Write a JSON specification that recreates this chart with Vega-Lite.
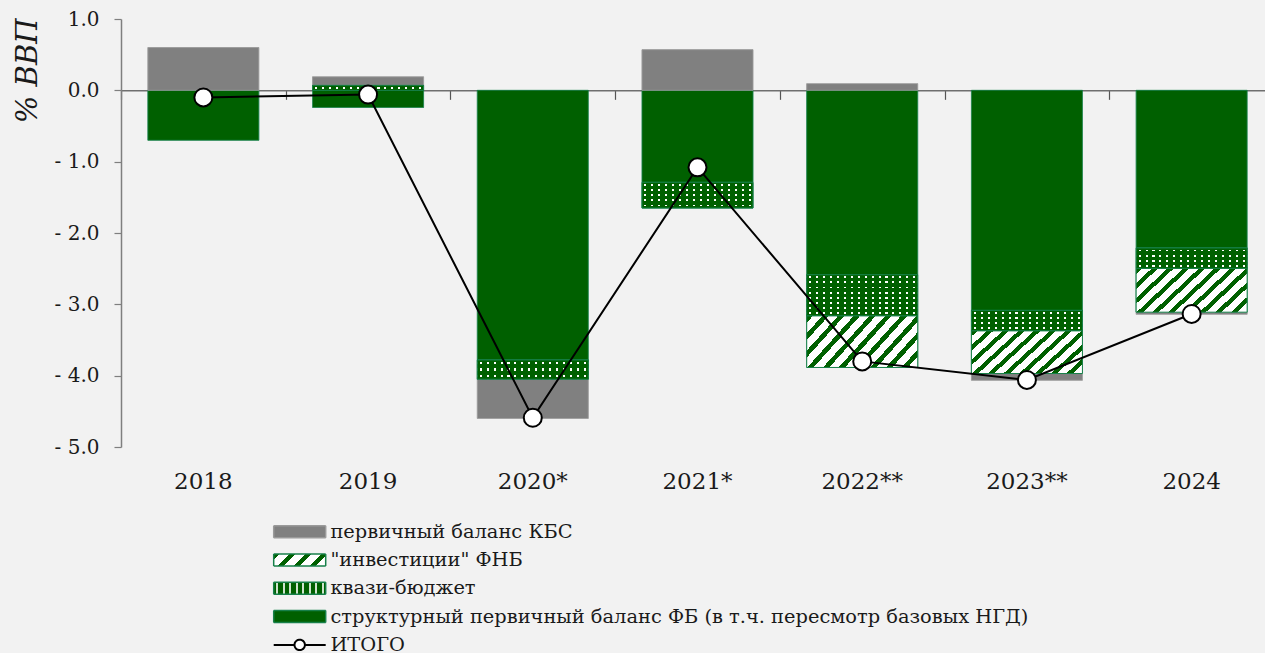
{
  "$schema": "https://vega.github.io/schema/vega-lite/v6.json",
  "autosize": {"type": "none"},
  "padding": {"left": 121, "top": 19, "right": 0, "bottom": 206},
  "width": 1144,
  "height": 428,
  "background": "#f2f2f2",
  "config": {
    "view": {"stroke": null},
    "font": "DejaVu Serif",
    "axis": {"labelFont": "DejaVu Serif", "titleFont": "DejaVu Serif", "labelColor": "#1a1a1a", "titleColor": "#1a1a1a", "grid": false}
  },
  "datasets": {
    "bars": [
      {"year": "2018", "series": "структурный первичный баланс ФБ (в т.ч. пересмотр базовых НГД)", "value": -0.70},
      {"year": "2018", "series": "первичный баланс КБС", "value": 0.60},
      {"year": "2019", "series": "структурный первичный баланс ФБ (в т.ч. пересмотр базовых НГД)", "value": -0.24},
      {"year": "2019", "series": "квази-бюджет", "value": 0.07},
      {"year": "2019", "series": "первичный баланс КБС", "value": 0.12},
      {"year": "2020*", "series": "структурный первичный баланс ФБ (в т.ч. пересмотр базовых НГД)", "value": -3.78},
      {"year": "2020*", "series": "квази-бюджет", "value": -0.27},
      {"year": "2020*", "series": "первичный баланс КБС", "value": -0.55},
      {"year": "2021*", "series": "структурный первичный баланс ФБ (в т.ч. пересмотр базовых НГД)", "value": -1.29},
      {"year": "2021*", "series": "квази-бюджет", "value": -0.36},
      {"year": "2021*", "series": "первичный баланс КБС", "value": 0.57},
      {"year": "2022**", "series": "структурный первичный баланс ФБ (в т.ч. пересмотр базовых НГД)", "value": -2.585},
      {"year": "2022**", "series": "квази-бюджет", "value": -0.575},
      {"year": "2022**", "series": "\"инвестиции\" ФНБ", "value": -0.725},
      {"year": "2022**", "series": "первичный баланс КБС", "value": 0.094},
      {"year": "2023**", "series": "структурный первичный баланс ФБ (в т.ч. пересмотр базовых НГД)", "value": -3.085},
      {"year": "2023**", "series": "квази-бюджет", "value": -0.285},
      {"year": "2023**", "series": "\"инвестиции\" ФНБ", "value": -0.60},
      {"year": "2023**", "series": "первичный баланс КБС", "value": -0.095},
      {"year": "2024", "series": "структурный первичный баланс ФБ (в т.ч. пересмотр базовых НГД)", "value": -2.21},
      {"year": "2024", "series": "квази-бюджет", "value": -0.285},
      {"year": "2024", "series": "\"инвестиции\" ФНБ", "value": -0.615},
      {"year": "2024", "series": "первичный баланс КБС", "value": -0.03}
    ],
    "totals": [
      {"year": "2018", "total": -0.10},
      {"year": "2019", "total": -0.06},
      {"year": "2020*", "total": -4.59},
      {"year": "2021*", "total": -1.08},
      {"year": "2022**", "total": -3.80},
      {"year": "2023**", "total": -4.06},
      {"year": "2024", "total": -3.135}
    ]
  },
  "resolve": {"scale": {"x": "shared", "y": "shared"}, "axis": {"x": "independent"}},
  "layer": [
    {
      "data": {"name": "bars"},
      "transform": [
        {"calculate": "datum.series === 'первичный баланс КБС' ? 4 : datum.series === 'квази-бюджет' ? 2 : indexof(datum.series, 'ФНБ') >= 0 ? 3 : 1", "as": "ord"},
        {"stack": "value", "groupby": ["year"], "sort": [{"field": "ord", "order": "ascending"}], "as": ["v0", "v1"], "offset": "zero"}
      ],
      "mark": {"type": "bar", "width": {"band": 0.674}, "strokeWidth": 1},
      "encoding": {
        "x": {"field": "year", "type": "nominal",
          "scale": {"domain": ["2018", "2019", "2020*", "2021*", "2022**", "2023**", "2024"], "range": [0, 1153], "paddingInner": 0, "paddingOuter": 0},
          "axis": {"orient": "bottom", "title": null, "domain": false, "ticks": false, "labelAngle": 0, "labelFontSize": 23, "labelPadding": 23}},
        "y": {"field": "v1", "type": "quantitative",
          "scale": {"domain": [-5, 1], "nice": false, "zero": false},
          "axis": {"title": "% ВВП", "values": [1, 0, -1, -2, -3, -4, -5],
            "labelExpr": "datum.value < 0 ? '- ' + format(-datum.value, '.1f') : format(datum.value, '.1f')",
            "labelFontSize": 20, "tickSize": 7, "labelPadding": 15, "domainColor": "#7f7f7f", "tickColor": "#7f7f7f", "domainWidth": 1.5, "tickWidth": 1.2,
            "titleFontSize": 29, "titleFontStyle": "italic", "titleFontWeight": "normal", "titleAngle": -90, "titleX": -94, "titleY": -1, "titleAlign": "right", "titleBaseline": "middle"}},
        "y2": {"field": "v0"},
        "fill": {"condition": [
            {"test": "datum.series === 'первичный баланс КБС'", "value": "#808080"},
            {"test": "indexof(datum.series, 'ФНБ') >= 0", "value": "#ffffff"}],
          "value": "#006000"},
        "stroke": {"condition": {"test": "datum.series === 'первичный баланс КБС'", "value": "#9a9a9a"}, "value": "#17804a"},
        "strokeDash": {"field": "series", "type": "nominal",
          "scale": {
            "domain": ["первичный баланс КБС", "\"инвестиции\" ФНБ", "квази-бюджет", "структурный первичный баланс ФБ (в т.ч. пересмотр базовых НГД)", "ИТОГО"],
            "range": [[1, 0], [1, 0], [1, 0], [1, 0], [1, 0]]
          },
          "legend": {
            "title": null, "orient": "none", "legendX": 169, "legendY": 503, "direction": "vertical",
            "labelFont": "DejaVu Serif", "labelFontSize": 19.4, "labelColor": "#1a1a1a", "labelLimit": 1000, "labelOffset": 21,
            "symbolSize": 1600, "rowPadding": 7.3, "symbolType": "M-1.3,-0.3H1.3V0.3H-1.3Z", "symbolOpacity": 1,
            "encoding": {"symbols": {
              "shape": {"value": {"expr": "datum.value === 'ИТОГО' ? 'M-1.3,0H-0.26A0.26,0.26 0 1 1 0.26,0A0.26,0.26 0 1 1 -0.26,0M0.26,0H1.3' : 'M-1.3,-0.3H1.3V0.3H-1.3Z'"}},
              "fill": {"value": {"expr": "datum.value === 'ИТОГО' ? '#ffffff' : datum.value === 'первичный баланс КБС' ? '#808080' : indexof(datum.value, 'ФНБ') >= 0 ? {gradient: 'linear', x1: 0, y1: 0, x2: 1.168, y2: 0.27, stops: [{offset: 0, color: '#006000'}, {offset: 0.095, color: '#006000'}, {offset: 0.095, color: '#ffffff'}, {offset: 0.25, color: '#ffffff'}, {offset: 0.25, color: '#006000'}, {offset: 0.345, color: '#006000'}, {offset: 0.345, color: '#ffffff'}, {offset: 0.5, color: '#ffffff'}, {offset: 0.5, color: '#006000'}, {offset: 0.595, color: '#006000'}, {offset: 0.595, color: '#ffffff'}, {offset: 0.75, color: '#ffffff'}, {offset: 0.75, color: '#006000'}, {offset: 0.845, color: '#006000'}, {offset: 0.845, color: '#ffffff'}, {offset: 1, color: '#ffffff'}]} : datum.value === 'квази-бюджет' ? {gradient: 'linear', x1: 0, y1: 0, x2: 1, y2: 0, stops: [{offset: 0, color: '#006000'}, {offset: 0.05, color: '#006000'}, {offset: 0.05, color: '#cfe3cf'}, {offset: 0.085, color: '#cfe3cf'}, {offset: 0.085, color: '#006000'}, {offset: 0.175, color: '#006000'}, {offset: 0.175, color: '#cfe3cf'}, {offset: 0.21, color: '#cfe3cf'}, {offset: 0.21, color: '#006000'}, {offset: 0.3, color: '#006000'}, {offset: 0.3, color: '#cfe3cf'}, {offset: 0.335, color: '#cfe3cf'}, {offset: 0.335, color: '#006000'}, {offset: 0.425, color: '#006000'}, {offset: 0.425, color: '#cfe3cf'}, {offset: 0.46, color: '#cfe3cf'}, {offset: 0.46, color: '#006000'}, {offset: 0.55, color: '#006000'}, {offset: 0.55, color: '#cfe3cf'}, {offset: 0.585, color: '#cfe3cf'}, {offset: 0.585, color: '#006000'}, {offset: 0.675, color: '#006000'}, {offset: 0.675, color: '#cfe3cf'}, {offset: 0.71, color: '#cfe3cf'}, {offset: 0.71, color: '#006000'}, {offset: 0.8, color: '#006000'}, {offset: 0.8, color: '#cfe3cf'}, {offset: 0.835, color: '#cfe3cf'}, {offset: 0.835, color: '#006000'}, {offset: 0.925, color: '#006000'}, {offset: 0.925, color: '#cfe3cf'}, {offset: 0.96, color: '#cfe3cf'}, {offset: 0.96, color: '#006000'}, {offset: 1, color: '#006000'}]} : '#006000'"}},
              "stroke": {"value": {"expr": "datum.value === 'ИТОГО' ? '#000000' : datum.value === 'первичный баланс КБС' ? '#9a9a9a' : '#17804a'"}},
              "strokeWidth": {"value": {"expr": "datum.value === 'ИТОГО' ? 2 : 1.5"}},
              "opacity": {"value": 1}
            }}
          }}
      }
    },
    {
      "data": {"name": "bars"},
      "transform": [
        {"calculate": "datum.series === 'первичный баланс КБС' ? 4 : datum.series === 'квази-бюджет' ? 2 : indexof(datum.series, 'ФНБ') >= 0 ? 3 : 1", "as": "ord"},
        {"stack": "value", "groupby": ["year"], "sort": [{"field": "ord", "order": "ascending"}], "as": ["v0", "v1"], "offset": "zero"},
        {"filter": "indexof(datum.series, 'ФНБ') >= 0"}
      ],
      "mark": {"type": "bar", "width": {"band": 0.674}, "stroke": "#17804a", "strokeWidth": 1,
        "fill": {"gradient": "linear", "x1": 0, "y1": 0, "x2": 1.203, "y2": 0.506, "stops": [
          {"offset": 0, "color": "#006000"}, {"offset": 0.04, "color": "#006000"}, {"offset": 0.04, "color": "#ffffff"}, {"offset": 0.1, "color": "#ffffff"},
          {"offset": 0.1, "color": "#006000"}, {"offset": 0.14, "color": "#006000"}, {"offset": 0.14, "color": "#ffffff"}, {"offset": 0.2, "color": "#ffffff"},
          {"offset": 0.2, "color": "#006000"}, {"offset": 0.24, "color": "#006000"}, {"offset": 0.24, "color": "#ffffff"}, {"offset": 0.3, "color": "#ffffff"},
          {"offset": 0.3, "color": "#006000"}, {"offset": 0.34, "color": "#006000"}, {"offset": 0.34, "color": "#ffffff"}, {"offset": 0.4, "color": "#ffffff"},
          {"offset": 0.4, "color": "#006000"}, {"offset": 0.44, "color": "#006000"}, {"offset": 0.44, "color": "#ffffff"}, {"offset": 0.5, "color": "#ffffff"},
          {"offset": 0.5, "color": "#006000"}, {"offset": 0.54, "color": "#006000"}, {"offset": 0.54, "color": "#ffffff"}, {"offset": 0.6, "color": "#ffffff"},
          {"offset": 0.6, "color": "#006000"}, {"offset": 0.64, "color": "#006000"}, {"offset": 0.64, "color": "#ffffff"}, {"offset": 0.7, "color": "#ffffff"},
          {"offset": 0.7, "color": "#006000"}, {"offset": 0.74, "color": "#006000"}, {"offset": 0.74, "color": "#ffffff"}, {"offset": 0.8, "color": "#ffffff"},
          {"offset": 0.8, "color": "#006000"}, {"offset": 0.84, "color": "#006000"}, {"offset": 0.84, "color": "#ffffff"}, {"offset": 0.9, "color": "#ffffff"},
          {"offset": 0.9, "color": "#006000"}, {"offset": 0.94, "color": "#006000"}, {"offset": 0.94, "color": "#ffffff"}, {"offset": 1, "color": "#ffffff"}
        ]}},
      "encoding": {
        "x": {"field": "year", "type": "nominal", "scale": {"domain": ["2018", "2019", "2020*", "2021*", "2022**", "2023**", "2024"], "range": [0, 1153], "paddingInner": 0, "paddingOuter": 0}, "axis": null},
        "y": {"field": "v1", "type": "quantitative", "scale": {"domain": [-5, 1], "nice": false, "zero": false}},
        "y2": {"field": "v0"}
      }
    },
    {
      "data": {"name": "bars"},
      "transform": [
        {"calculate": "datum.series === 'первичный баланс КБС' ? 4 : datum.series === 'квази-бюджет' ? 2 : indexof(datum.series, 'ФНБ') >= 0 ? 3 : 1", "as": "ord"},
        {"stack": "value", "groupby": ["year"], "sort": [{"field": "ord", "order": "ascending"}], "as": ["v0", "v1"], "offset": "zero"},
        {"filter": "datum.series === 'квази-бюджет' && datum.year === '2019'"}
      ],
      "mark": {"type": "bar", "width": {"band": 0.674}, "strokeWidth": 0,
        "fill": {"gradient": "linear", "x1": 0, "y1": 0, "x2": 0, "y2": 1, "stops": [
          {"offset": 0, "color": "#006000"}, {"offset": 0.3, "color": "#006000"}, {"offset": 0.3, "color": "#ffffff"}, {"offset": 0.7, "color": "#ffffff"}, {"offset": 0.7, "color": "#006000"}, {"offset": 1, "color": "#006000"}]}},
      "encoding": {
        "x": {"field": "year", "type": "nominal", "scale": {"domain": ["2018", "2019", "2020*", "2021*", "2022**", "2023**", "2024"], "range": [0, 1153], "paddingInner": 0, "paddingOuter": 0}, "axis": null},
        "y": {"field": "v1", "type": "quantitative", "scale": {"domain": [-5, 1], "nice": false, "zero": false}},
        "y2": {"field": "v0"}
      }
    },
    {
      "data": {"name": "bars"},
      "transform": [
        {"calculate": "datum.series === 'первичный баланс КБС' ? 4 : datum.series === 'квази-бюджет' ? 2 : indexof(datum.series, 'ФНБ') >= 0 ? 3 : 1", "as": "ord"},
        {"stack": "value", "groupby": ["year"], "sort": [{"field": "ord", "order": "ascending"}], "as": ["v0", "v1"], "offset": "zero"},
        {"filter": "datum.series === 'квази-бюджет' && datum.year === '2020*'"}
      ],
      "mark": {"type": "bar", "width": {"band": 0.674}, "strokeWidth": 0,
        "fill": {"gradient": "linear", "x1": 0, "y1": 0, "x2": 0, "y2": 1, "stops": [
          {"offset": 0, "color": "#006000"}, {"offset": 0.1067, "color": "#006000"}, {"offset": 0.1067, "color": "#ffffff"}, {"offset": 0.2267, "color": "#ffffff"}, {"offset": 0.2267, "color": "#006000"},
          {"offset": 0.44, "color": "#006000"}, {"offset": 0.44, "color": "#ffffff"}, {"offset": 0.56, "color": "#ffffff"}, {"offset": 0.56, "color": "#006000"},
          {"offset": 0.7733, "color": "#006000"}, {"offset": 0.7733, "color": "#ffffff"}, {"offset": 0.8933, "color": "#ffffff"}, {"offset": 0.8933, "color": "#006000"}, {"offset": 1, "color": "#006000"}]}},
      "encoding": {
        "x": {"field": "year", "type": "nominal", "scale": {"domain": ["2018", "2019", "2020*", "2021*", "2022**", "2023**", "2024"], "range": [0, 1153], "paddingInner": 0, "paddingOuter": 0}, "axis": null},
        "y": {"field": "v1", "type": "quantitative", "scale": {"domain": [-5, 1], "nice": false, "zero": false}},
        "y2": {"field": "v0"}
      }
    },
    {
      "data": {"name": "bars"},
      "transform": [
        {"calculate": "datum.series === 'первичный баланс КБС' ? 4 : datum.series === 'квази-бюджет' ? 2 : indexof(datum.series, 'ФНБ') >= 0 ? 3 : 1", "as": "ord"},
        {"stack": "value", "groupby": ["year"], "sort": [{"field": "ord", "order": "ascending"}], "as": ["v0", "v1"], "offset": "zero"},
        {"filter": "datum.series === 'квази-бюджет' && datum.year === '2021*'"}
      ],
      "mark": {"type": "bar", "width": {"band": 0.674}, "strokeWidth": 0,
        "fill": {"gradient": "linear", "x1": 0, "y1": 0, "x2": 0, "y2": 1, "stops": [
          {"offset": 0, "color": "#006000"}, {"offset": 0.064, "color": "#006000"}, {"offset": 0.064, "color": "#ffffff"}, {"offset": 0.136, "color": "#ffffff"}, {"offset": 0.136, "color": "#006000"},
          {"offset": 0.264, "color": "#006000"}, {"offset": 0.264, "color": "#ffffff"}, {"offset": 0.336, "color": "#ffffff"}, {"offset": 0.336, "color": "#006000"},
          {"offset": 0.464, "color": "#006000"}, {"offset": 0.464, "color": "#ffffff"}, {"offset": 0.536, "color": "#ffffff"}, {"offset": 0.536, "color": "#006000"},
          {"offset": 0.664, "color": "#006000"}, {"offset": 0.664, "color": "#ffffff"}, {"offset": 0.736, "color": "#ffffff"}, {"offset": 0.736, "color": "#006000"},
          {"offset": 0.864, "color": "#006000"}, {"offset": 0.864, "color": "#ffffff"}, {"offset": 0.936, "color": "#ffffff"}, {"offset": 0.936, "color": "#006000"}, {"offset": 1, "color": "#006000"}]}},
      "encoding": {
        "x": {"field": "year", "type": "nominal", "scale": {"domain": ["2018", "2019", "2020*", "2021*", "2022**", "2023**", "2024"], "range": [0, 1153], "paddingInner": 0, "paddingOuter": 0}, "axis": null},
        "y": {"field": "v1", "type": "quantitative", "scale": {"domain": [-5, 1], "nice": false, "zero": false}},
        "y2": {"field": "v0"}
      }
    },
    {
      "data": {"name": "bars"},
      "transform": [
        {"calculate": "datum.series === 'первичный баланс КБС' ? 4 : datum.series === 'квази-бюджет' ? 2 : indexof(datum.series, 'ФНБ') >= 0 ? 3 : 1", "as": "ord"},
        {"stack": "value", "groupby": ["year"], "sort": [{"field": "ord", "order": "ascending"}], "as": ["v0", "v1"], "offset": "zero"},
        {"filter": "datum.series === 'квази-бюджет' && datum.year === '2022**'"}
      ],
      "mark": {"type": "bar", "width": {"band": 0.674}, "strokeWidth": 0,
        "fill": {"gradient": "linear", "x1": 0, "y1": 0, "x2": 0, "y2": 1, "stops": [
          {"offset": 0, "color": "#006000"}, {"offset": 0.04, "color": "#006000"}, {"offset": 0.04, "color": "#ffffff"}, {"offset": 0.085, "color": "#ffffff"}, {"offset": 0.085, "color": "#006000"},
          {"offset": 0.165, "color": "#006000"}, {"offset": 0.165, "color": "#ffffff"}, {"offset": 0.21, "color": "#ffffff"}, {"offset": 0.21, "color": "#006000"},
          {"offset": 0.29, "color": "#006000"}, {"offset": 0.29, "color": "#ffffff"}, {"offset": 0.335, "color": "#ffffff"}, {"offset": 0.335, "color": "#006000"},
          {"offset": 0.415, "color": "#006000"}, {"offset": 0.415, "color": "#ffffff"}, {"offset": 0.46, "color": "#ffffff"}, {"offset": 0.46, "color": "#006000"},
          {"offset": 0.54, "color": "#006000"}, {"offset": 0.54, "color": "#ffffff"}, {"offset": 0.585, "color": "#ffffff"}, {"offset": 0.585, "color": "#006000"},
          {"offset": 0.665, "color": "#006000"}, {"offset": 0.665, "color": "#ffffff"}, {"offset": 0.71, "color": "#ffffff"}, {"offset": 0.71, "color": "#006000"},
          {"offset": 0.79, "color": "#006000"}, {"offset": 0.79, "color": "#ffffff"}, {"offset": 0.835, "color": "#ffffff"}, {"offset": 0.835, "color": "#006000"},
          {"offset": 0.915, "color": "#006000"}, {"offset": 0.915, "color": "#ffffff"}, {"offset": 0.96, "color": "#ffffff"}, {"offset": 0.96, "color": "#006000"}, {"offset": 1, "color": "#006000"}]}},
      "encoding": {
        "x": {"field": "year", "type": "nominal", "scale": {"domain": ["2018", "2019", "2020*", "2021*", "2022**", "2023**", "2024"], "range": [0, 1153], "paddingInner": 0, "paddingOuter": 0}, "axis": null},
        "y": {"field": "v1", "type": "quantitative", "scale": {"domain": [-5, 1], "nice": false, "zero": false}},
        "y2": {"field": "v0"}
      }
    },
    {
      "data": {"name": "bars"},
      "transform": [
        {"calculate": "datum.series === 'первичный баланс КБС' ? 4 : datum.series === 'квази-бюджет' ? 2 : indexof(datum.series, 'ФНБ') >= 0 ? 3 : 1", "as": "ord"},
        {"stack": "value", "groupby": ["year"], "sort": [{"field": "ord", "order": "ascending"}], "as": ["v0", "v1"], "offset": "zero"},
        {"filter": "datum.series === 'квази-бюджет' && (datum.year === '2023**' || datum.year === '2024')"}
      ],
      "mark": {"type": "bar", "width": {"band": 0.674}, "strokeWidth": 0,
        "fill": {"gradient": "linear", "x1": 0, "y1": 0, "x2": 0, "y2": 1, "stops": [
          {"offset": 0, "color": "#006000"}, {"offset": 0.08, "color": "#006000"}, {"offset": 0.08, "color": "#ffffff"}, {"offset": 0.17, "color": "#ffffff"}, {"offset": 0.17, "color": "#006000"},
          {"offset": 0.33, "color": "#006000"}, {"offset": 0.33, "color": "#ffffff"}, {"offset": 0.42, "color": "#ffffff"}, {"offset": 0.42, "color": "#006000"},
          {"offset": 0.58, "color": "#006000"}, {"offset": 0.58, "color": "#ffffff"}, {"offset": 0.67, "color": "#ffffff"}, {"offset": 0.67, "color": "#006000"},
          {"offset": 0.83, "color": "#006000"}, {"offset": 0.83, "color": "#ffffff"}, {"offset": 0.92, "color": "#ffffff"}, {"offset": 0.92, "color": "#006000"}, {"offset": 1, "color": "#006000"}]}},
      "encoding": {
        "x": {"field": "year", "type": "nominal", "scale": {"domain": ["2018", "2019", "2020*", "2021*", "2022**", "2023**", "2024"], "range": [0, 1153], "paddingInner": 0, "paddingOuter": 0}, "axis": null},
        "y": {"field": "v1", "type": "quantitative", "scale": {"domain": [-5, 1], "nice": false, "zero": false}},
        "y2": {"field": "v0"}
      }
    },
    {
      "data": {"name": "bars"},
      "transform": [
        {"calculate": "datum.series === 'первичный баланс КБС' ? 4 : datum.series === 'квази-бюджет' ? 2 : indexof(datum.series, 'ФНБ') >= 0 ? 3 : 1", "as": "ord"},
        {"stack": "value", "groupby": ["year"], "sort": [{"field": "ord", "order": "ascending"}], "as": ["v0", "v1"], "offset": "zero"},
        {"filter": "datum.series === 'квази-бюджет'"}
      ],
      "mark": {"type": "bar", "width": {"band": 0.674}, "stroke": "#17804a", "strokeWidth": 1,
        "fill": {"gradient": "linear", "x1": 0, "y1": 0, "x2": 1, "y2": 0, "stops": [
          {"offset": 0, "color": "#006000"}, {"offset": 0.0219, "color": "#006000"}, {"offset": 0.0219, "color": "rgba(0,96,0,0)"}, {"offset": 0.0406, "color": "rgba(0,96,0,0)"}, {"offset": 0.0406, "color": "#006000"},
          {"offset": 0.0844, "color": "#006000"}, {"offset": 0.0844, "color": "rgba(0,96,0,0)"}, {"offset": 0.1031, "color": "rgba(0,96,0,0)"}, {"offset": 0.1031, "color": "#006000"},
          {"offset": 0.1469, "color": "#006000"}, {"offset": 0.1469, "color": "rgba(0,96,0,0)"}, {"offset": 0.1656, "color": "rgba(0,96,0,0)"}, {"offset": 0.1656, "color": "#006000"},
          {"offset": 0.2094, "color": "#006000"}, {"offset": 0.2094, "color": "rgba(0,96,0,0)"}, {"offset": 0.2281, "color": "rgba(0,96,0,0)"}, {"offset": 0.2281, "color": "#006000"},
          {"offset": 0.2719, "color": "#006000"}, {"offset": 0.2719, "color": "rgba(0,96,0,0)"}, {"offset": 0.2906, "color": "rgba(0,96,0,0)"}, {"offset": 0.2906, "color": "#006000"},
          {"offset": 0.3344, "color": "#006000"}, {"offset": 0.3344, "color": "rgba(0,96,0,0)"}, {"offset": 0.3531, "color": "rgba(0,96,0,0)"}, {"offset": 0.3531, "color": "#006000"},
          {"offset": 0.3969, "color": "#006000"}, {"offset": 0.3969, "color": "rgba(0,96,0,0)"}, {"offset": 0.4156, "color": "rgba(0,96,0,0)"}, {"offset": 0.4156, "color": "#006000"},
          {"offset": 0.4594, "color": "#006000"}, {"offset": 0.4594, "color": "rgba(0,96,0,0)"}, {"offset": 0.4781, "color": "rgba(0,96,0,0)"}, {"offset": 0.4781, "color": "#006000"},
          {"offset": 0.5219, "color": "#006000"}, {"offset": 0.5219, "color": "rgba(0,96,0,0)"}, {"offset": 0.5406, "color": "rgba(0,96,0,0)"}, {"offset": 0.5406, "color": "#006000"},
          {"offset": 0.5844, "color": "#006000"}, {"offset": 0.5844, "color": "rgba(0,96,0,0)"}, {"offset": 0.6031, "color": "rgba(0,96,0,0)"}, {"offset": 0.6031, "color": "#006000"},
          {"offset": 0.6469, "color": "#006000"}, {"offset": 0.6469, "color": "rgba(0,96,0,0)"}, {"offset": 0.6656, "color": "rgba(0,96,0,0)"}, {"offset": 0.6656, "color": "#006000"},
          {"offset": 0.7094, "color": "#006000"}, {"offset": 0.7094, "color": "rgba(0,96,0,0)"}, {"offset": 0.7281, "color": "rgba(0,96,0,0)"}, {"offset": 0.7281, "color": "#006000"},
          {"offset": 0.7719, "color": "#006000"}, {"offset": 0.7719, "color": "rgba(0,96,0,0)"}, {"offset": 0.7906, "color": "rgba(0,96,0,0)"}, {"offset": 0.7906, "color": "#006000"},
          {"offset": 0.8344, "color": "#006000"}, {"offset": 0.8344, "color": "rgba(0,96,0,0)"}, {"offset": 0.8531, "color": "rgba(0,96,0,0)"}, {"offset": 0.8531, "color": "#006000"},
          {"offset": 0.8969, "color": "#006000"}, {"offset": 0.8969, "color": "rgba(0,96,0,0)"}, {"offset": 0.9156, "color": "rgba(0,96,0,0)"}, {"offset": 0.9156, "color": "#006000"},
          {"offset": 0.9594, "color": "#006000"}, {"offset": 0.9594, "color": "rgba(0,96,0,0)"}, {"offset": 0.9781, "color": "rgba(0,96,0,0)"}, {"offset": 0.9781, "color": "#006000"}, {"offset": 1, "color": "#006000"}
        ]}},
      "encoding": {
        "x": {"field": "year", "type": "nominal", "scale": {"domain": ["2018", "2019", "2020*", "2021*", "2022**", "2023**", "2024"], "range": [0, 1153], "paddingInner": 0, "paddingOuter": 0}, "axis": null},
        "y": {"field": "v1", "type": "quantitative", "scale": {"domain": [-5, 1], "nice": false, "zero": false}},
        "y2": {"field": "v0"}
      }
    },
    {
      "data": {"name": "totals"},
      "mark": {"type": "line", "stroke": "#000000", "strokeWidth": 2},
      "encoding": {
        "x": {"field": "year", "type": "nominal",
          "scale": {"domain": ["2018", "2019", "2020*", "2021*", "2022**", "2023**", "2024"], "range": [0, 1153], "paddingInner": 0, "paddingOuter": 0},
          "axis": {"orient": "top", "offset": -71.33, "labels": false, "title": null, "domain": true, "domainColor": "#6f6f6f", "domainWidth": 1.5, "ticks": true, "tickBand": "extent", "tickSize": -9, "tickColor": "#555555", "tickWidth": 1.2}},
        "y": {"field": "total", "type": "quantitative", "scale": {"domain": [-5, 1], "nice": false, "zero": false}}
      }
    },
    {
      "data": {"name": "totals"},
      "mark": {"type": "point", "shape": "circle", "filled": true, "fill": "#ffffff", "stroke": "#000000", "strokeWidth": 2, "size": 324, "opacity": 1},
      "encoding": {
        "x": {"field": "year", "type": "nominal", "scale": {"domain": ["2018", "2019", "2020*", "2021*", "2022**", "2023**", "2024"], "range": [0, 1153], "paddingInner": 0, "paddingOuter": 0}, "axis": null},
        "y": {"field": "total", "type": "quantitative", "scale": {"domain": [-5, 1], "nice": false, "zero": false}}
      }
    }
  ]
}
